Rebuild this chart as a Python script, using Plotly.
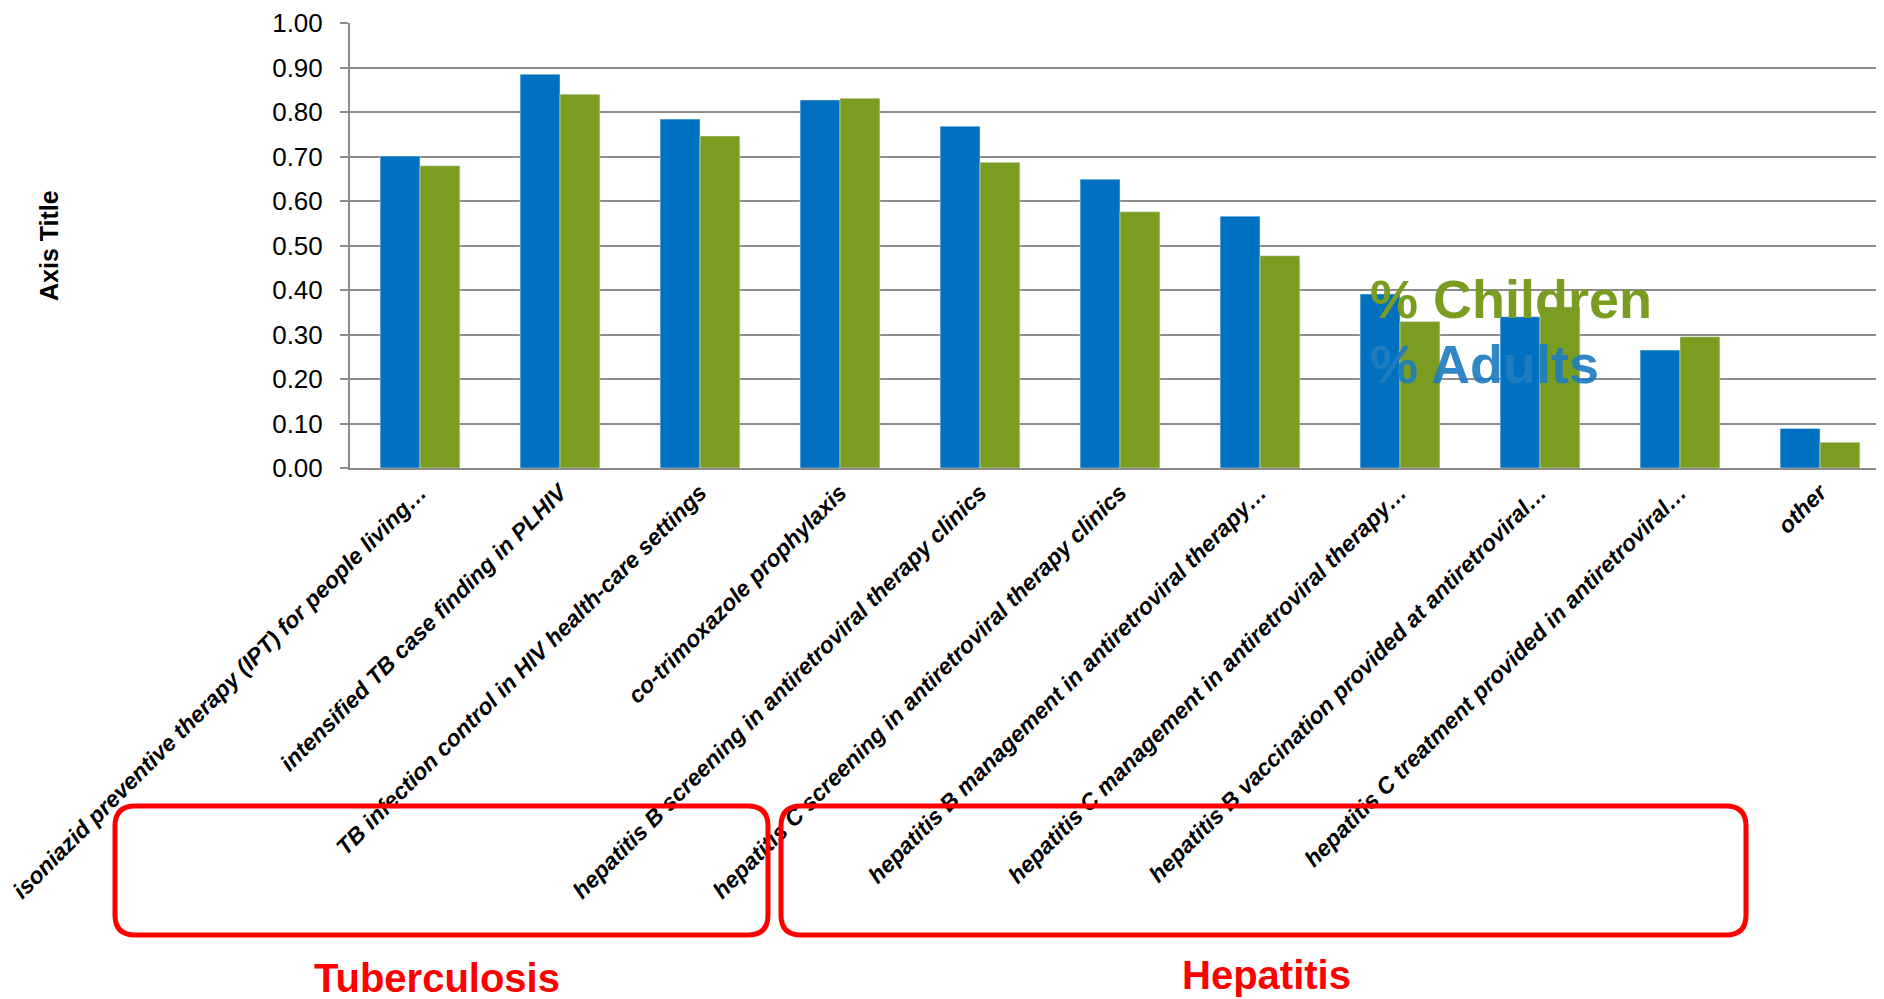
import plotly.graph_objects as go

categories = [
    "isoniazid preventive therapy (IPT) for people living…",
    "intensified TB case finding in PLHIV",
    "TB infection control in HIV health-care settings",
    "co-trimoxazole prophylaxis",
    "hepatitis B screening in antiretroviral therapy clinics",
    "hepatitis C screening in antiretroviral therapy clinics",
    "hepatitis B management in antiretroviral therapy…",
    "hepatitis C management in antiretroviral therapy…",
    "hepatitis B vaccination provided at antiretroviral…",
    "hepatitis C treatment provided in antiretroviral…",
    "other",
]
adults = [0.701, 0.885, 0.784, 0.827, 0.768, 0.649, 0.566, 0.391, 0.340, 0.265, 0.089]
children = [0.679, 0.840, 0.746, 0.831, 0.687, 0.576, 0.477, 0.329, 0.362, 0.295, 0.058]
yticks = [0, 0.1, 0.2, 0.3, 0.4, 0.5, 0.6, 0.7, 0.8, 0.9, 1.0]

# page has an 8px body margin
OFF = 8
W, H = 1876, 991
L, T = 342, 15
base = 460          # y of the zero line inside the figure
B = H - base
plot_w = W - L
plot_h = base - T
cat_px = 140

BLUE = "#0070C0"
GREEN = "#7A9C21"
RED = "#FF0000"
FONT = "Arial, Liberation Sans, sans-serif"


def px(x):
    return (x - OFF - L) / plot_w


def py(y):
    return (base - (y - OFF)) / plot_h


def rounded_box(x0, y0, x1, y1, r=20):
    rx, ry = r / plot_w, r / plot_h
    a, b, c, d = px(x0), py(y0), px(x1), py(y1)
    return (f"M {a+rx},{b} L {c-rx},{b} Q {c},{b} {c},{b-ry} "
            f"L {c},{d+ry} Q {c},{d} {c-rx},{d} L {a+rx},{d} "
            f"Q {a},{d} {a},{d+ry} L {a},{b-ry} Q {a},{b} {a+rx},{b} Z")


fig = go.Figure()
fig.add_trace(go.Bar(x=categories, y=adults, name="% Adults", marker_color=BLUE))
fig.add_trace(go.Bar(x=categories, y=children, name="% Children", marker_color=GREEN))

fig.update_layout(
    width=W, height=H,
    margin=dict(l=L, r=0, t=T, b=B, autoexpand=False),
    barmode="group", bargap=0.43, bargroupgap=0,
    plot_bgcolor="white", paper_bgcolor="white",
    showlegend=False,
    font=dict(family=FONT, color="black"),
)
fig.update_xaxes(
    range=[-0.5, -0.5 + plot_w / cat_px],
    tickangle=-45,
    tickfont=dict(size=23, weight="bold", style="italic", color="black"),
    showline=True, linecolor="#8C8C8C", linewidth=2,
    ticks="", showgrid=False,
)
fig.update_yaxes(
    range=[0, 1], tickvals=yticks, tickformat=".2f",
    tickfont=dict(size=26, color="black"), ticklabelstandoff=12,
    showgrid=True, gridcolor="#8C8C8C", gridwidth=2,
    showline=True, linecolor="#8C8C8C", linewidth=2,
    ticks="outside", ticklen=8, tickcolor="#8C8C8C", tickwidth=2,
    zeroline=False,
)

fig.add_annotation(text="<b>Axis Title</b>", textangle=-90, xref="paper", yref="paper",
                   x=px(49), y=py(246), xanchor="center", yanchor="middle",
                   showarrow=False, font=dict(size=25, color="black"))
fig.add_annotation(text="<b>% Children</b>", xref="paper", yref="paper", x=px(1368), y=py(299),
                   xanchor="left", yanchor="middle", showarrow=False,
                   font=dict(size=54, color=GREEN))
fig.add_annotation(text="<b>% Adults</b>", xref="paper", yref="paper", x=px(1368), y=py(364),
                   xanchor="left", yanchor="middle", showarrow=False,
                   font=dict(size=54, color="rgba(30,125,190,0.92)"))

fig.add_shape(type="path", xref="paper", yref="paper", path=rounded_box(115, 806, 768, 935),
              line=dict(color=RED, width=5))
fig.add_shape(type="path", xref="paper", yref="paper", path=rounded_box(781, 806, 1746, 935),
              line=dict(color=RED, width=5))
fig.add_annotation(text="<b>Tuberculosis</b>", xref="paper", yref="paper", x=px(437), y=py(978),
                   xanchor="center", yanchor="middle", showarrow=False,
                   font=dict(size=40, color=RED))
fig.add_annotation(text="<b>Hepatitis</b>", xref="paper", yref="paper", x=px(1266), y=py(975),
                   xanchor="center", yanchor="middle", showarrow=False,
                   font=dict(size=40, color=RED))

fig.write_html("out.html")
